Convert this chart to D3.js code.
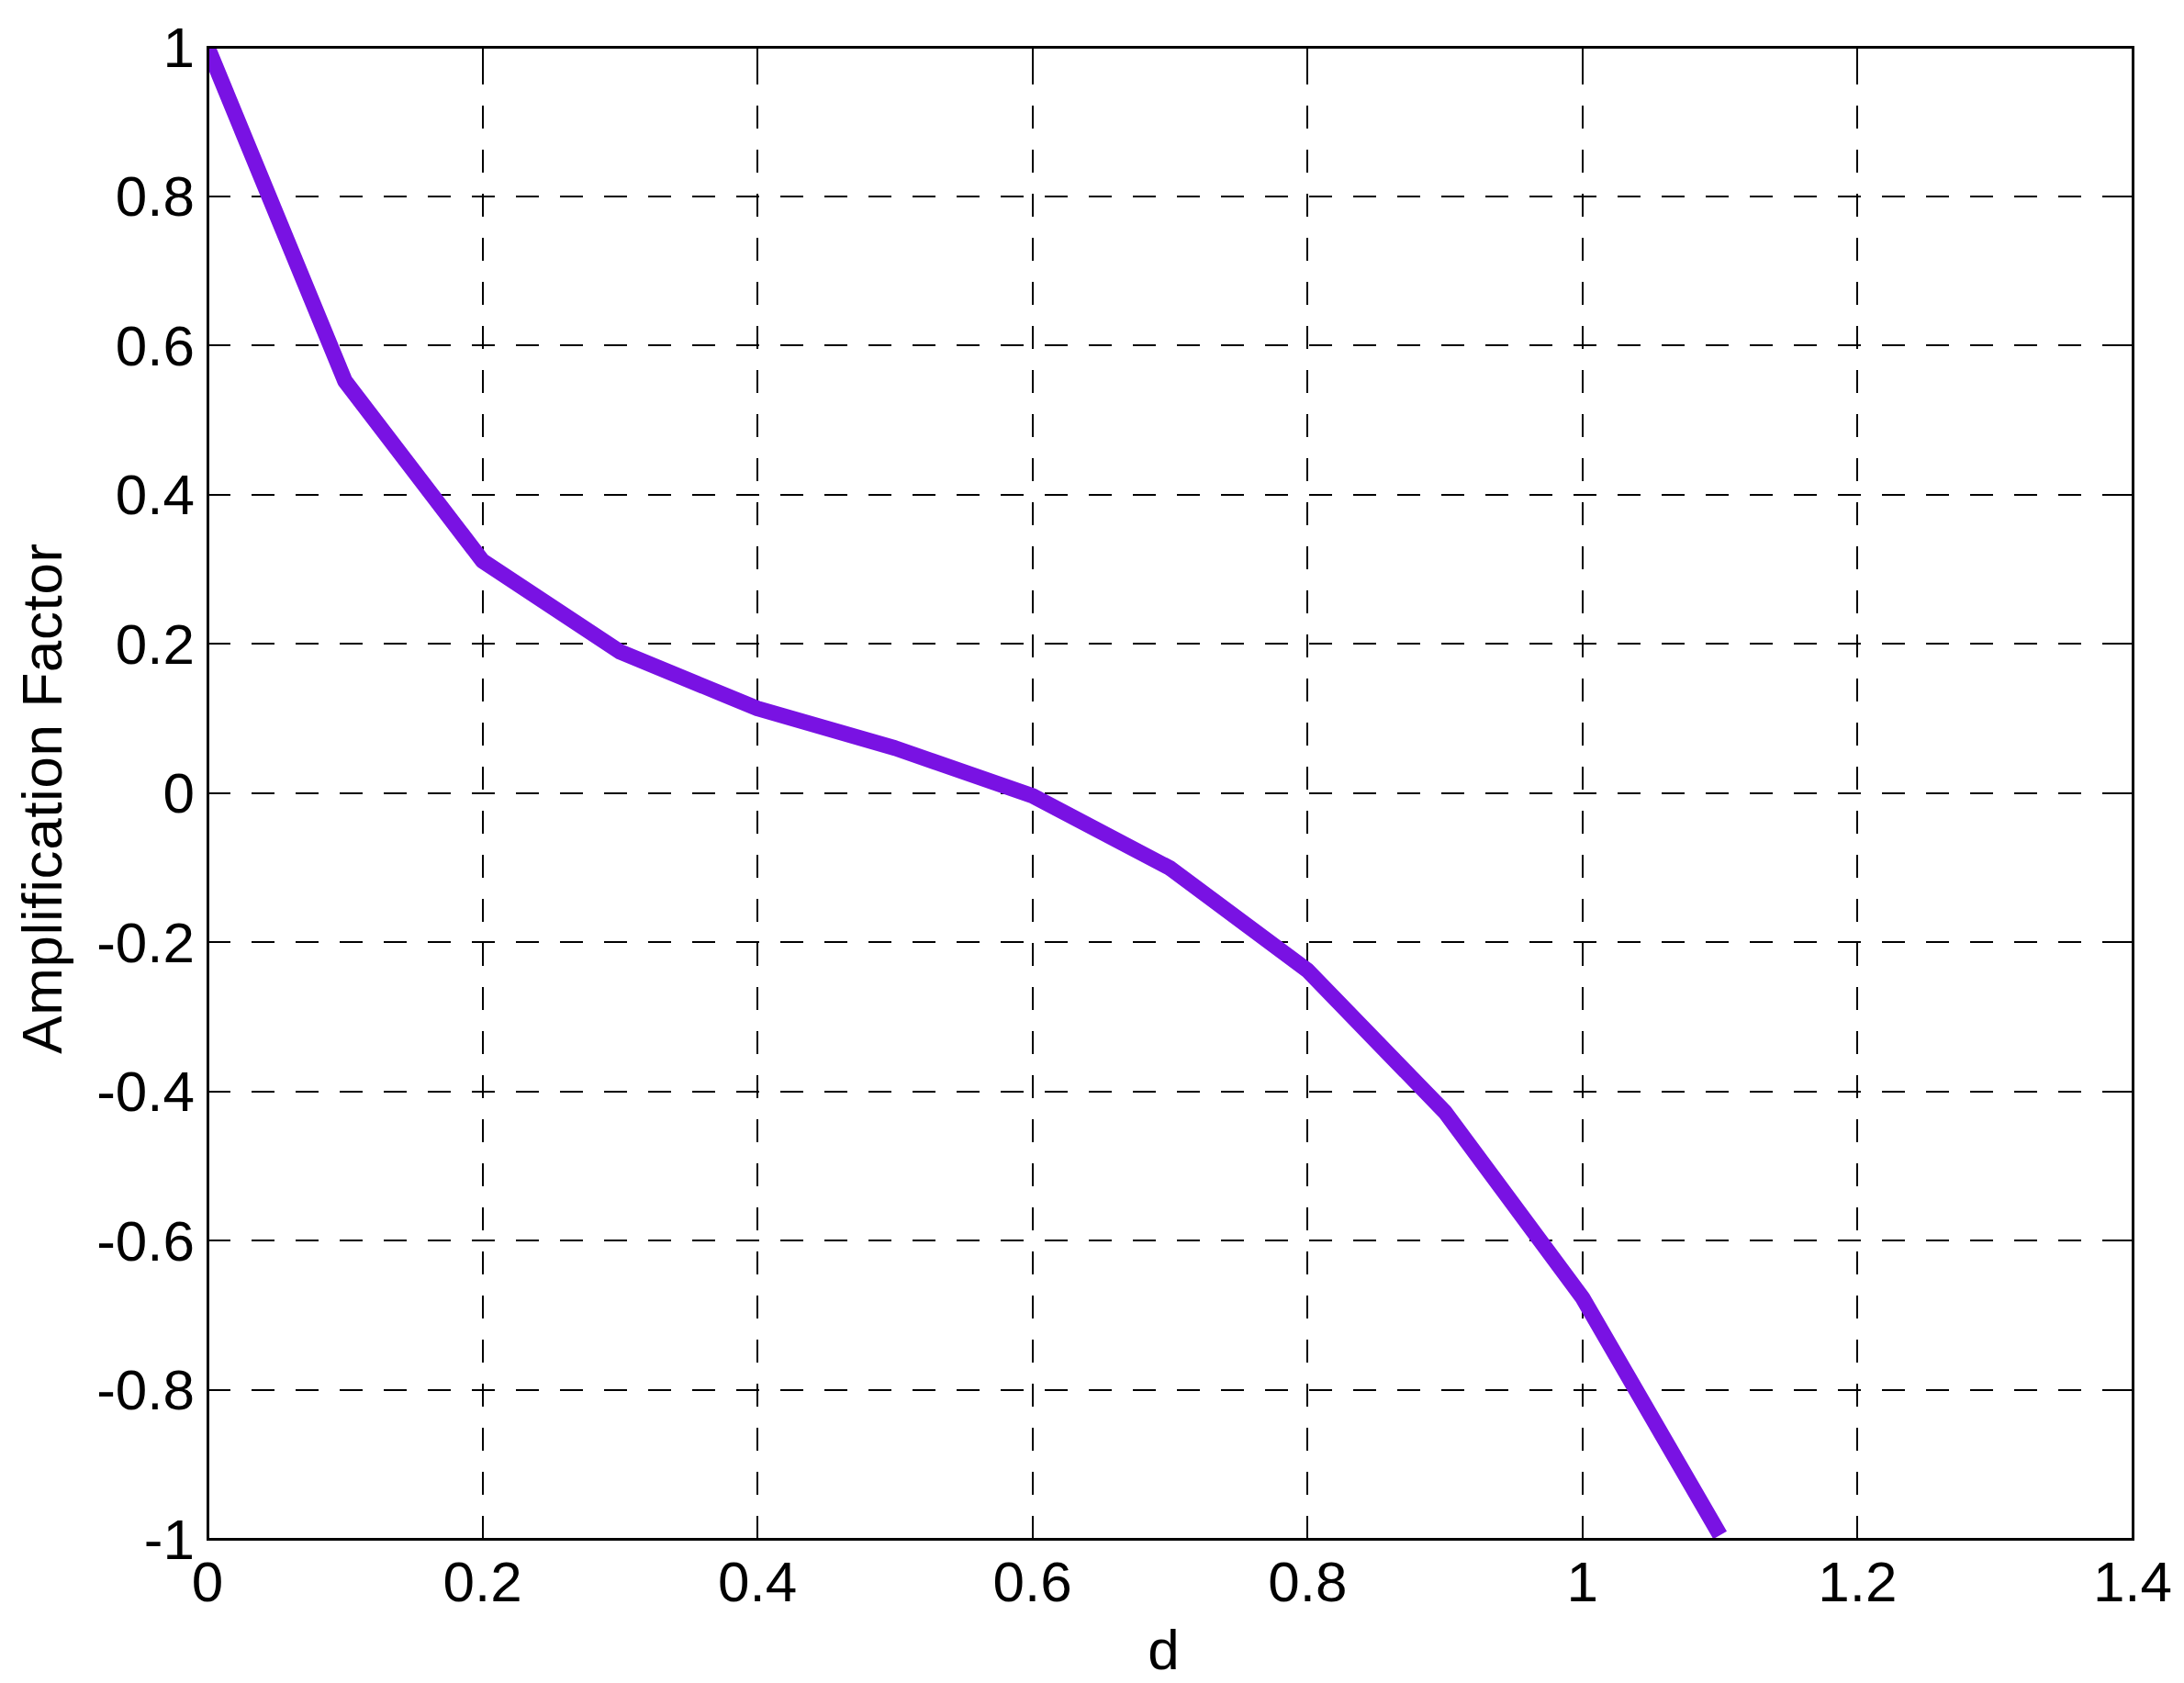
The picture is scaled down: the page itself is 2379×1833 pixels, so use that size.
<!DOCTYPE html>
<html>
<head>
<meta charset="utf-8">
<script src="https://cdn.jsdelivr.net/npm/d3@7"></script>
<style>
  html, body { margin: 0; padding: 0; background: #fff; }
  svg { display: block; }
  text { font-family: "Liberation Sans", Arial, sans-serif; fill: #000; }
</style>
</head>
<body>
<script>
// ---- data ----
const dValues = [0, 0.1, 0.2, 0.3, 0.4, 0.5, 0.6, 0.7, 0.8, 0.9, 1.0, 1.1];
const amplification = [1.0, 0.552, 0.311, 0.189, 0.113, 0.060, -0.004, -0.101, -0.238, -0.428, -0.677, -0.995];
const xTicks = [0, 0.2, 0.4, 0.6, 0.8, 1, 1.2, 1.4];
const yTicks = [-1, -0.8, -0.6, -0.4, -0.2, 0, 0.2, 0.4, 0.6, 0.8, 1];
const xLabel = "d";
const yLabel = "Amplification Factor";

// ---- layout ----
const W = 2379, H = 1833;
const L = 226, R = 2323, T = 51, B = 1676;
const fontSize = 62;

const svg = d3.select("body").append("svg").attr("width", W).attr("height", H);
svg.append("rect").attr("width", W).attr("height", H).attr("fill", "#fff");

const x = d3.scaleLinear().domain([0, 1.4]).range([L, R]);
const y = d3.scaleLinear().domain([-1, 1]).range([B, T]);

svg.append("defs").append("clipPath").attr("id", "plotclip")
  .append("rect").attr("x", L).attr("y", T).attr("width", R - L).attr("height", B - T);

// grid lines
const grid = svg.append("g").attr("stroke", "#000").attr("stroke-width", 2)
  .attr("stroke-dasharray", "25,23").attr("shape-rendering", "crispEdges");
grid.selectAll("line.v").data(xTicks.filter(t => t > 0 && t < 1.4)).enter().append("line")
  .attr("x1", d => x(d)).attr("x2", d => x(d)).attr("y1", B).attr("y2", T);
grid.selectAll("line.h").data(yTicks.filter(t => t > -1 && t < 1)).enter().append("line")
  .attr("x1", L).attr("x2", R).attr("y1", d => y(d)).attr("y2", d => y(d));

// inward ticks on all four sides
const tickLen = 21;
const ticks = svg.append("g").attr("stroke", "#000").attr("stroke-width", 2).attr("shape-rendering", "crispEdges");
xTicks.forEach(t => {
  ticks.append("line").attr("x1", x(t)).attr("x2", x(t)).attr("y1", B).attr("y2", B - tickLen);
  ticks.append("line").attr("x1", x(t)).attr("x2", x(t)).attr("y1", T).attr("y2", T + tickLen);
});
yTicks.forEach(t => {
  ticks.append("line").attr("x1", L).attr("x2", L + tickLen).attr("y1", y(t)).attr("y2", y(t));
  ticks.append("line").attr("x1", R).attr("x2", R - tickLen).attr("y1", y(t)).attr("y2", y(t));
});

// data line
const pts = dValues.map((d, i) => [d, amplification[i]]);
svg.append("path").datum(pts)
  .attr("clip-path", "url(#plotclip)")
  .attr("fill", "none")
  .attr("stroke", "#7912E3")
  .attr("stroke-width", 17)
  .attr("stroke-linejoin", "round")
  .attr("d", d3.line().x(d => x(d[0])).y(d => y(d[1])));

// axes box
svg.append("rect").attr("x", L).attr("y", T).attr("width", R - L).attr("height", B - T)
  .attr("fill", "none").attr("stroke", "#000").attr("stroke-width", 3).attr("shape-rendering", "crispEdges");

// tick labels
const fmt = v => (v === 0 ? "0" : String(+v.toFixed(1)));
svg.append("g").selectAll("text").data(xTicks).enter().append("text")
  .attr("x", d => x(d)).attr("y", 1744)
  .attr("text-anchor", "middle").attr("font-size", fontSize)
  .text(fmt);
svg.append("g").selectAll("text").data(yTicks).enter().append("text")
  .attr("x", 212).attr("y", d => y(d))
  .attr("dy", "0.35em")
  .attr("text-anchor", "end").attr("font-size", fontSize)
  .text(fmt);

// axis labels
svg.append("text").attr("x", (L + R) / 2 - 7).attr("y", 1818)
  .attr("text-anchor", "middle").attr("font-size", fontSize).text(xLabel);
svg.append("text")
  .attr("transform", `translate(67, ${(T + B) / 2 + 6}) rotate(-90)`)
  .attr("text-anchor", "middle").attr("font-size", fontSize)
  .attr("letter-spacing", "0.6").text(yLabel);
</script>
</body>
</html>
